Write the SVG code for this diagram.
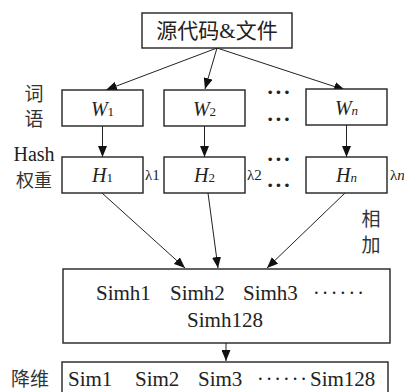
<svg xmlns="http://www.w3.org/2000/svg" width="404" height="392" viewBox="0 0 404 392">
<style>
.box{fill:#fff;stroke:#222;stroke-width:1.4}
.t{font-family:'Liberation Serif','Times New Roman',serif;fill:#222}
.c{font-family:'Noto Sans CJK SC',sans-serif;fill:#333}
.ln{stroke:#222;stroke-width:1;fill:none}
.dots{font-family:'Liberation Serif',serif;fill:#222;font-size:22px;font-weight:bold;letter-spacing:1px;text-anchor:middle}
</style>
<defs>
<marker id="ah" markerUnits="userSpaceOnUse" markerWidth="11" markerHeight="9" refX="11" refY="4.5" orient="auto">
<path d="M0,0 L11,4.5 L0,9 z" fill="#111"/>
</marker>
</defs>
<rect width="404" height="392" fill="#fff"/>
<g id="connectors">
<line class="ln" x1="217" y1="48" x2="106" y2="90" marker-end="url(#ah)"/>
<line class="ln" x1="217" y1="48" x2="205" y2="89" marker-end="url(#ah)"/>
<line class="ln" x1="217" y1="48" x2="345" y2="90" marker-end="url(#ah)"/>
<line class="ln" x1="102.5" y1="126" x2="102.5" y2="157" marker-end="url(#ah)"/>
<line class="ln" x1="204.5" y1="126" x2="204.5" y2="157" marker-end="url(#ah)"/>
<line class="ln" x1="346.5" y1="125" x2="346.5" y2="157" marker-end="url(#ah)"/>
<line class="ln" x1="102" y1="193" x2="185" y2="268" marker-end="url(#ah)"/>
<line class="ln" x1="208" y1="193" x2="218" y2="268" marker-end="url(#ah)"/>
<line class="ln" x1="345" y1="193" x2="267" y2="268" marker-end="url(#ah)"/>
<line class="ln" x1="226" y1="343" x2="226" y2="361" marker-end="url(#ah)"/>
</g>
<g id="source">
<rect class="box" x="142" y="13" width="150" height="35"/>
<text x="217" y="38" font-size="21" text-anchor="middle" font-family="'Liberation Serif','Noto Sans CJK SC',serif" fill="#222">源代码&amp;文件</text>
</g>
<g id="w1">
<rect class="box" x="62" y="90" width="81" height="36"/>
<text class="t" x="102.5" y="116" font-size="20" text-anchor="middle"><tspan font-style="italic">W</tspan><tspan font-size="13">1</tspan></text>
</g>
<g id="w2">
<rect class="box" x="164" y="90" width="81" height="36"/>
<text class="t" x="204.5" y="116" font-size="20" text-anchor="middle"><tspan font-style="italic">W</tspan><tspan font-size="13">2</tspan></text>
</g>
<g id="wn">
<rect class="box" x="306" y="89" width="81" height="36"/>
<text class="t" x="346.5" y="115" font-size="20" text-anchor="middle"><tspan font-style="italic">W</tspan><tspan font-size="13" font-style="italic">n</tspan></text>
</g>
<g id="h1">
<rect class="box" x="62" y="157" width="81" height="36"/>
<text class="t" x="102.5" y="182" font-size="20" text-anchor="middle"><tspan font-style="italic">H</tspan><tspan font-size="13">1</tspan></text>
</g>
<g id="h2">
<rect class="box" x="164" y="157" width="81" height="36"/>
<text class="t" x="204.5" y="182" font-size="20" text-anchor="middle"><tspan font-style="italic">H</tspan><tspan font-size="13">2</tspan></text>
</g>
<g id="hn">
<rect class="box" x="306" y="157" width="81" height="36"/>
<text class="t" x="346.5" y="182" font-size="20" text-anchor="middle"><tspan font-style="italic">H</tspan><tspan font-size="13" font-style="italic">n</tspan></text>
</g>
<g id="labels">
<text class="c" x="34" y="101" font-size="19" text-anchor="middle">词</text>
<text class="c" x="34" y="126" font-size="19" text-anchor="middle">语</text>
<text class="t" x="34" y="161" font-size="20" text-anchor="middle">Hash</text>
<text class="c" x="34" y="187" font-size="18" text-anchor="middle">权重</text>
<text class="c" x="371" y="226" font-size="19" text-anchor="middle">相</text>
<text class="c" x="371" y="252" font-size="19" text-anchor="middle">加</text>
<text class="c" x="30" y="386" font-size="19" text-anchor="middle">降维</text>
<text class="t" x="145" y="180" font-size="15">λ1</text>
<text class="t" x="247" y="180" font-size="15">λ2</text>
<text class="t" x="390" y="180" font-size="15">λ<tspan font-style="italic">n</tspan></text>
<text class="dots" x="279" y="99">···</text>
<text class="dots" x="279" y="126">···</text>
<text class="dots" x="279" y="166">···</text>
<text class="dots" x="279" y="192">···</text>
</g>
<g id="simh">
<rect class="box" x="63" y="269" width="327" height="74"/>
<text class="t" x="96" y="300" font-size="21">Simh1</text>
<text class="t" x="170" y="300" font-size="21">Simh2</text>
<text class="t" x="243" y="300" font-size="21">Simh3</text>
<text class="t" x="313" y="300" font-size="20" letter-spacing="2.2">······</text>
<text class="t" x="225" y="327" font-size="21" text-anchor="middle">Simh128</text>
</g>
<g id="sim">
<rect class="box" x="62" y="362" width="326" height="40"/>
<text class="t" x="68" y="386" font-size="21">Sim1</text>
<text class="t" x="135" y="386" font-size="21">Sim2</text>
<text class="t" x="198" y="386" font-size="21">Sim3</text>
<text class="t" x="257" y="386" font-size="20" letter-spacing="2">······</text>
<text class="t" x="310" y="386" font-size="21">Sim128</text>
</g>
</svg>
